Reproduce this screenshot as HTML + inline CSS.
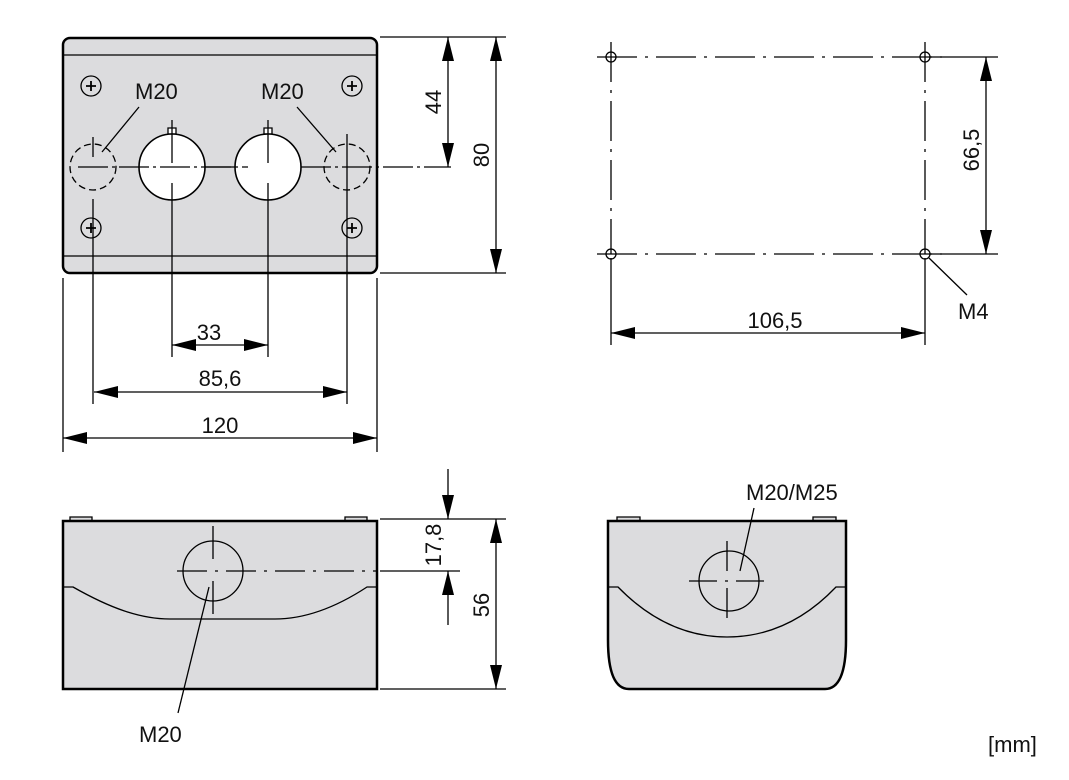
<!DOCTYPE html>
<html><head><style>body{margin:0;background:#fff}svg{display:block}text{font-family:"Liberation Sans",sans-serif;font-size:22px;fill:#111}</style></head><body>
<svg width="1069" height="780" viewBox="0 0 1069 780" xmlns="http://www.w3.org/2000/svg">
<defs>
<marker id="a" viewBox="0 0 24 12" refX="24" refY="6" markerWidth="24" markerHeight="12" markerUnits="userSpaceOnUse" orient="auto-start-reverse"><path d="M0,0L24,6L0,12z" fill="#000"/></marker>
</defs>
<g stroke="#000" fill="none" stroke-width="1.3">
<!-- top-left view -->
<rect x="63" y="38" width="314" height="235" rx="7" fill="#dcdcde" stroke-width="2.5"/>
<line x1="64" y1="55" x2="376" y2="55"/>
<line x1="64" y1="256" x2="376" y2="256"/>
<g fill="#dcdcde">
<circle cx="91" cy="86" r="10"/><circle cx="352" cy="86" r="10"/><circle cx="91" cy="228" r="10"/><circle cx="352" cy="228" r="10"/>
</g>
<g stroke-width="1.8">
<path d="M91,81v10M86,86h10M352,81v10M347,86h10M91,223v10M86,228h10M352,223v10M347,228h10"/>
</g>
<circle cx="93" cy="167" r="23" stroke-dasharray="7,4"/>
<circle cx="347" cy="167" r="23" stroke-dasharray="7,4"/>
<path d="M168,134h8v-6h-8zM264,134h8v-6h-8z" fill="#fff"/>
<circle cx="172" cy="167" r="33" fill="#fff" stroke-width="1.6"/>
<circle cx="268" cy="167" r="33" fill="#fff" stroke-width="1.6"/>
<line x1="205" y1="167" x2="235" y2="167"/>
<path d="M78,167h170M301,167h150" stroke-dasharray="30,4,3,4"/>
<line x1="93" y1="137" x2="93" y2="157"/><line x1="93" y1="199" x2="93" y2="404"/>
<line x1="347" y1="134" x2="347" y2="404"/>
<line x1="172" y1="120" x2="172" y2="163"/><line x1="172" y1="183" x2="172" y2="357"/>
<line x1="268" y1="120" x2="268" y2="163"/><line x1="268" y1="183" x2="268" y2="357"/>
<line x1="139" y1="107" x2="102" y2="152"/><line x1="297" y1="107" x2="336" y2="152"/>
<line x1="63" y1="278" x2="63" y2="452"/><line x1="377" y1="278" x2="377" y2="452"/>
<line x1="172" y1="345" x2="268" y2="345" marker-start="url(#a)" marker-end="url(#a)"/>
<line x1="94" y1="392" x2="347" y2="392" marker-start="url(#a)" marker-end="url(#a)"/>
<line x1="63" y1="438" x2="377" y2="438" marker-start="url(#a)" marker-end="url(#a)"/>
<line x1="380" y1="37" x2="506" y2="37"/><line x1="380" y1="273" x2="506" y2="273"/>
<line x1="448" y1="37" x2="448" y2="167" marker-start="url(#a)" marker-end="url(#a)"/>
<line x1="496" y1="37" x2="496" y2="273" marker-start="url(#a)" marker-end="url(#a)"/>
<!-- top-right -->
<path d="M597,57h345M597,254h345" stroke-dasharray="40,8,3,8"/>
<path d="M611,42v212M925,42v212" stroke-dasharray="40,8,3,8"/>
<circle cx="611" cy="57" r="5"/><circle cx="925" cy="57" r="5"/><circle cx="611" cy="254" r="5"/><circle cx="925" cy="254" r="5"/>
<line x1="930" y1="57" x2="998" y2="57"/><line x1="930" y1="254" x2="998" y2="254"/>
<line x1="611" y1="258" x2="611" y2="345"/><line x1="925" y1="258" x2="925" y2="345"/>
<line x1="986" y1="57" x2="986" y2="254" marker-start="url(#a)" marker-end="url(#a)"/>
<line x1="611" y1="333" x2="925" y2="333" marker-start="url(#a)" marker-end="url(#a)"/>
<line x1="929" y1="258" x2="967" y2="295"/>
<!-- bottom-left -->
<path d="M70,521v-4h22v4M345,521v-4h22v4" fill="#dcdcde"/>
<rect x="63" y="521" width="314" height="168" fill="#dcdcde" stroke-width="2.5"/>
<path d="M64,587h9C110,608 140,619 170,619H275C305,619 335,608 367,587h9"/>
<circle cx="213" cy="571" r="30"/>
<path d="M177,571h200" stroke-dasharray="30,8,3,8"/>
<path d="M213,526v33M213,581v33"/>
<line x1="209" y1="587" x2="178" y2="713"/>
<line x1="380" y1="519" x2="506" y2="519"/><line x1="380" y1="571" x2="460" y2="571"/>
<line x1="380" y1="689" x2="506" y2="689"/>
<line x1="448" y1="469" x2="448" y2="519" marker-end="url(#a)"/>
<line x1="448" y1="625" x2="448" y2="571" marker-end="url(#a)"/>
<line x1="496" y1="519" x2="496" y2="689" marker-start="url(#a)" marker-end="url(#a)"/>
<!-- bottom-right -->
<path d="M617,521v-4h23v4M813,521v-4h23v4" fill="#dcdcde"/>
<path d="M608,521H846V640Q846,689 825,689H629Q608,689 608,640Z" fill="#dcdcde" stroke-width="2.5"/>
<path d="M609,587h9C660,630 700,637 727,637S795,630 836,587h9"/>
<circle cx="729" cy="581" r="30"/>
<path d="M689,581h76" stroke-dasharray="28,8,3,8"/>
<path d="M727,541v30M727,588v30"/>
<line x1="740" y1="571" x2="754" y2="508"/>
</g>
<text x="135" y="99">M20</text><text x="261" y="99">M20</text>
<text x="209" y="340" text-anchor="middle">33</text>
<text x="220" y="386" text-anchor="middle">85,6</text>
<text x="220" y="433" text-anchor="middle">120</text>
<text transform="translate(441,102) rotate(-90)" text-anchor="middle">44</text>
<text transform="translate(489,155) rotate(-90)" text-anchor="middle">80</text>
<text transform="translate(979,150) rotate(-90)" text-anchor="middle">66,5</text>
<text x="775" y="328" text-anchor="middle">106,5</text>
<text x="958" y="319">M4</text>
<text transform="translate(441,545) rotate(-90)" text-anchor="middle">17,8</text>
<text transform="translate(489,605) rotate(-90)" text-anchor="middle">56</text>
<text x="139" y="742">M20</text>
<text x="746" y="500">M20/M25</text>
<text x="988" y="752">[mm]</text>
</svg>
</body></html>
